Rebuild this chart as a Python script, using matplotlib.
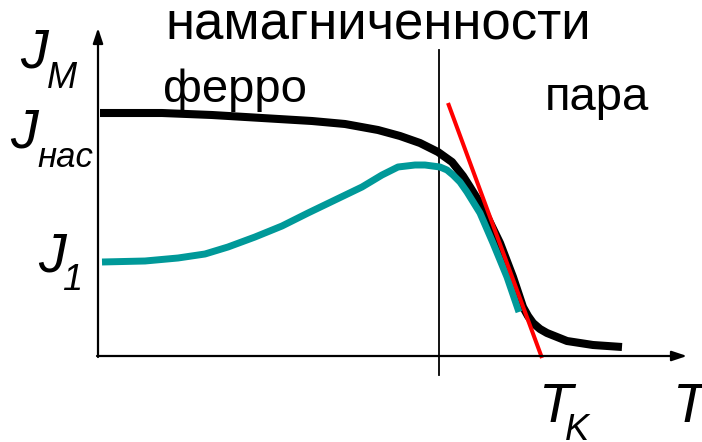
import numpy as np
import matplotlib.pyplot as plt

# curves, origin at the axes corner
t_black = [2, 64, 114, 164, 214, 247, 280, 302, 322, 340, 354, 365, 372, 385, 402, 415, 425,
           430, 435, 442, 449, 469, 495, 524]
j_black = [243, 243, 241, 238, 235, 232, 226, 220, 213, 204, 194, 180, 169, 148, 113, 79, 49,
           40, 33, 27, 23, 15, 11, 9]

t_teal = [4, 47, 80, 107, 130, 157, 184, 210, 237, 264, 284, 300, 317, 327, 342, 349, 355,
          362, 369, 382, 395, 409, 421]
j_teal = [94, 95, 98, 102, 109, 119, 130, 143, 156, 169, 181, 189, 191, 191, 189, 186, 181,
          174, 164, 143, 113, 79, 44]

t_tangent = [350, 444]
j_tangent = [253, -2]

t_border = 341

plt.rcParams['font.family'] = ['Liberation Sans', 'DejaVu Sans']

fig = plt.figure(figsize=(7.02, 4.42), dpi=100)
ax = fig.add_axes([0, 0, 1, 1])
ax.set_xlim(-98, 604)
ax.set_ylim(-86, 356)
ax.axis('off')

# axes with arrows
ax.annotate('', xy=(0, 328), xytext=(0, -1),
            arrowprops=dict(arrowstyle='-|>,head_length=0.9,head_width=0.3', lw=1.6, color='black',
                            shrinkA=0, shrinkB=0))
ax.annotate('', xy=(589, 0), xytext=(-1, 0),
            arrowprops=dict(arrowstyle='-|>,head_length=0.9,head_width=0.3', lw=1.6, color='black',
                            shrinkA=0, shrinkB=0))

ax.plot([t_border, t_border], [306, -19], color='black', lw=1.3)

ax.plot(t_black, j_black, color='black', lw=5.8, solid_capstyle='butt', solid_joinstyle='round')
ax.plot(t_teal, j_teal, color='#009999', lw=5.0, solid_capstyle='butt', solid_joinstyle='round')
ax.plot(t_tangent, j_tangent, color='#ff0000', lw=2.9, solid_capstyle='butt')

ax.text(67, 316, 'намагниченности', fontsize=38, va='baseline')
ax.text(65, 254, 'ферро', fontsize=34, va='baseline')
ax.text(447, 246, 'пара', fontsize=34, va='baseline')

it = dict(style='italic', va='baseline')
ax.text(-78, 289, 'J', fontsize=40, **it)
ax.text(-51, 268, 'M', fontsize=26, **it)
ax.text(-88, 208, 'J', fontsize=40, **it)
ax.text(-61, 189, 'нас', fontsize=25, **it)
ax.text(-60, 84, 'J', fontsize=40, **it)
ax.text(-36, 66, '1', fontsize=26, **it)
ax.text(440, -66, 'T', fontsize=40, **it)
ax.text(467, -84, 'K', fontsize=26, **it)
ax.text(574, -66, 'T', fontsize=40, **it)

plt.savefig('out.png', dpi=100)
